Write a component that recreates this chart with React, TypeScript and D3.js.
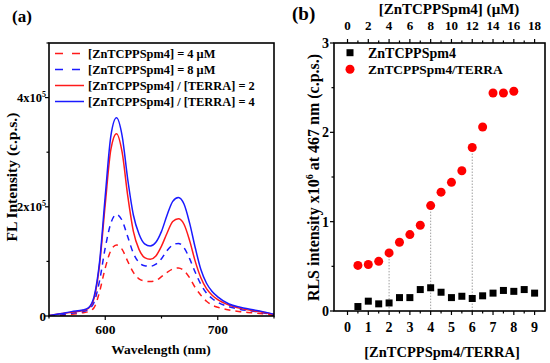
import React from 'react';
import * as d3 from 'd3';

// ---- panel (a) data: FL spectra (intensity in units of 1e5 c.p.s.)
const wavelengths = [550, 560, 570, 580, 585, 590, 595, 600, 605, 610, 615, 620, 625, 630, 635, 640, 645, 650, 655, 660, 665, 670, 675, 680, 685, 690, 695, 700, 710, 720, 730, 740, 750];
const flZn4 = [0, 0.01, 0.03, 0.06, 0.08, 0.15, 0.45, 0.88, 1.2, 1.3, 1.22, 1.0, 0.8, 0.68, 0.64, 0.63, 0.65, 0.72, 0.8, 0.86, 0.88, 0.83, 0.7, 0.52, 0.38, 0.27, 0.2, 0.16, 0.11, 0.08, 0.06, 0.04, 0.01];
const flZn8 = [0, 0.02, 0.05, 0.08, 0.12, 0.25, 0.65, 1.25, 1.7, 1.86, 1.75, 1.45, 1.15, 0.98, 0.92, 0.91, 0.95, 1.05, 1.2, 1.3, 1.33, 1.25, 1.05, 0.8, 0.58, 0.42, 0.32, 0.25, 0.17, 0.12, 0.09, 0.06, 0.02];
const flRatio2 = [0.01, 0.04, 0.07, 0.1, 0.14, 0.32, 0.95, 2.05, 3.05, 3.34, 3.0, 2.2, 1.55, 1.22, 1.07, 1.04, 1.1, 1.28, 1.52, 1.73, 1.78, 1.68, 1.38, 1.0, 0.7, 0.5, 0.38, 0.3, 0.2, 0.14, 0.1, 0.07, 0.03];
const flRatio4 = [0.01, 0.04, 0.08, 0.11, 0.15, 0.35, 1.0, 2.2, 3.3, 3.63, 3.3, 2.5, 1.85, 1.5, 1.32, 1.28, 1.35, 1.55, 1.85, 2.1, 2.17, 2.05, 1.7, 1.25, 0.85, 0.6, 0.45, 0.35, 0.22, 0.16, 0.12, 0.08, 0.03];

const spectra = [
  { label: '[ZnTCPPSpm4] = 4 \u03bcM', values: flZn4, color: '#ff1a1a', dash: '6,5' },
  { label: '[ZnTCPPSpm4] = 8 \u03bcM', values: flZn8, color: '#1a1aff', dash: '6,5' },
  { label: '[ZnTCPPSpm4] / [TERRA] = 2', values: flRatio2, color: '#ff1a1a', dash: null },
  { label: '[ZnTCPPSpm4] / [TERRA] = 4', values: flRatio4, color: '#1a1aff', dash: null },
];

// ---- panel (b) data: RLS intensity (x1e6 c.p.s.)
const ratioZn = [0.5, 1, 1.5, 2, 2.5, 3, 3.5, 4, 4.5, 5, 5.5, 6, 6.5, 7, 7.5, 8, 8.5, 9];
const rlsZn = [0.05, 0.11, 0.08, 0.09, 0.15, 0.15, 0.24, 0.26, 0.21, 0.15, 0.165, 0.14, 0.17, 0.2, 0.23, 0.22, 0.24, 0.2];
const ratioTerra = [0.5, 1, 1.5, 2, 2.5, 3, 3.5, 4, 4.5, 5, 5.5, 6, 6.5, 7, 7.5, 8];
const rlsTerra = [0.51, 0.52, 0.556, 0.65, 0.77, 0.855, 0.96, 1.18, 1.33, 1.44, 1.57, 1.83, 2.06, 2.44, 2.44, 2.46];
const dropLines = [2, 4, 6];

const bottomTicks = [0, 1, 2, 3, 4, 5, 6, 7, 8, 9];
const topTicks = [0, 2, 4, 6, 8, 10, 12, 14, 16, 18];
const rlsTicks = [0, 1, 2, 3];

const FONT = '"Liberation Serif", "Times New Roman", serif';
const MU = '\u03bc';

function PanelA() {
  const x0 = 49, x1 = 274, y0 = 43, y1 = 316;
  const x = d3.scaleLinear().domain([550, 750]).range([x0, x1]);
  const y = d3.scaleLinear().domain([0, 5]).range([y1, y0]);
  const line = d3.line<number>()
    .x((_, i) => x(wavelengths[i]))
    .y(d => y(d))
    .curve(d3.curveMonotoneX);

  return (
    <g fontFamily={FONT} fontWeight="bold">
      <text x={12} y={22} fontSize={17}>(a)</text>
      <defs>
        <clipPath id="clipA"><rect x={x0} y={y0} width={x1 - x0} height={y1 - y0} /></clipPath>
      </defs>
      <g clipPath="url(#clipA)">
        {spectra.map((s, i) => (
          <path key={i} d={line(s.values) || ''} fill="none" stroke={s.color}
            strokeWidth={1.5} strokeDasharray={s.dash || undefined} />
        ))}
      </g>
      {/* legend */}
      {spectra.map((s, i) => {
        const ly = 53.5 + i * 16;
        return (
          <g key={i}>
            <line x1={55} x2={84} y1={ly} y2={ly} stroke={s.color} strokeWidth={1.5}
              strokeDasharray={s.dash ? '8,9' : undefined} />
            <text x={88} y={ly + 4.5} fontSize={12.4}>{s.label}</text>
          </g>
        );
      })}
      <rect x={x0} y={y0} width={x1 - x0} height={y1 - y0} fill="none" stroke="#000" strokeWidth={1.6} />
      {/* x ticks */}
      {[550, 600, 650, 700, 750].map(t => (
        <line key={t} x1={x(t)} x2={x(t)} y1={y1} y2={y1 + (t % 100 === 0 ? 4 : 2.5)} stroke="#000" strokeWidth={1.2} />
      ))}
      {[600, 700].map(t => (
        <text key={t} x={x(t)} y={334} fontSize={13.5} textAnchor="middle">{t}</text>
      ))}
      {/* y ticks */}
      {[0, 1, 2, 3, 4, 5].map(t => (
        <line key={t} x1={x0} x2={x0 - (t % 2 === 0 ? 4 : 2.5)} y1={y(t)} y2={y(t)} stroke="#000" strokeWidth={1.2} />
      ))}
      <text x={46} y={y(0) + 4.5} fontSize={13} textAnchor="end">0</text>
      {[2, 4].map(t => (
        <text key={t} x={46} y={y(t) + 4.5} fontSize={12.5} textAnchor="end">
          {t}x10<tspan dy={-5} fontSize={8}>5</tspan>
        </text>
      ))}
      <text transform={`translate(17,${177}) rotate(-90)`} fontSize={15.5} textAnchor="middle">FL Intensity (c.p.s.)</text>
      <text x={161} y={354} fontSize={13.5} textAnchor="middle">Wavelength (nm)</text>
    </g>
  );
}

function PanelB() {
  const x0 = 334, x1 = 545, y0 = 43, y1 = 311;
  const x = d3.scaleLinear().domain([-0.65, 9.5]).range([x0, x1]);
  const xTop = d3.scaleLinear().domain([-1.3, 19]).range([x0, x1]);
  const y = d3.scaleLinear().domain([0, 3]).range([y1, y0]);
  const halfTicks = d3.range(0, 19).map(i => i * 0.5);
  const topAll = d3.range(0, 19);
  const sq = 7;

  return (
    <g fontFamily={FONT} fontWeight="bold">
      <text x={292} y={20} fontSize={19}>(b)</text>
      <text x={449} y={13.5} fontSize={15} textAnchor="middle">[ZnTCPPSpm4] ({MU}M)</text>
      {/* drop lines */}
      {dropLines.map(d => {
        const idx = ratioTerra.indexOf(d);
        return (
          <line key={d} x1={x(d)} x2={x(d)} y1={y(rlsTerra[idx])} y2={y1} stroke="#888"
            strokeWidth={0.8} strokeDasharray="1.5,1.5" />
        );
      })}
      {ratioZn.map((r, i) => (
        <rect key={i} x={x(r) - sq / 2} y={y(rlsZn[i]) - sq / 2} width={sq} height={sq} fill="#000" />
      ))}
      {ratioTerra.map((r, i) => (
        <circle key={i} cx={x(r)} cy={y(rlsTerra[i])} r={4.5} fill="#ff0000" />
      ))}
      {/* legend */}
      <rect x={350 - 3.5} y={52.7 - 3.5} width={7} height={7} fill="#000" />
      <text x={368} y={57.5} fontSize={14}>ZnTCPPSpm4</text>
      <circle cx={350} cy={69.3} r={4.5} fill="#ff0000" />
      <text x={368} y={74} fontSize={13.4}>ZnTCPPSpm4/TERRA</text>

      <rect x={x0} y={y0} width={x1 - x0} height={y1 - y0} fill="none" stroke="#000" strokeWidth={1.6} />
      {/* bottom ticks */}
      {halfTicks.map(t => (
        <line key={t} x1={x(t)} x2={x(t)} y1={y1} y2={y1 + (Number.isInteger(t) ? 4 : 2.5)} stroke="#000" strokeWidth={1.2} />
      ))}
      {bottomTicks.map(t => (
        <text key={t} x={x(t)} y={331.5} fontSize={14} textAnchor="middle">{t}</text>
      ))}
      {/* top ticks */}
      {topAll.map(t => (
        <line key={t} x1={xTop(t)} x2={xTop(t)} y1={y0} y2={y0 - (t % 2 === 0 ? 4 : 2.5)} stroke="#000" strokeWidth={1.2} />
      ))}
      {topTicks.map(t => (
        <text key={t} x={xTop(t)} y={30} fontSize={13} textAnchor="middle">{t}</text>
      ))}
      {/* y ticks */}
      {[0, 0.5, 1, 1.5, 2, 2.5, 3].map(t => (
        <line key={t} x1={x0} x2={x0 - (Number.isInteger(t) ? 4 : 2.5)} y1={y(t)} y2={y(t)} stroke="#000" strokeWidth={1.2} />
      ))}
      {rlsTicks.map(t => (
        <text key={t} x={329} y={y(t) + 5} fontSize={14} textAnchor="end">{t}</text>
      ))}
      <text transform={`translate(319,177.5) rotate(-90)`} fontSize={16} textAnchor="middle">
        RLS intensity  x10<tspan dy={-6} fontSize={10}>6</tspan><tspan dy={6}> at 467 nm (c.p.s.)</tspan>
      </text>
      <text x={442} y={357} fontSize={14.5} textAnchor="middle">[ZnTCPPSpm4/TERRA]</text>
    </g>
  );
}

export default function App() {
  return (
    <svg width={550} height={363} style={{ position: 'absolute', left: 0, top: 0, background: '#fff' }}>
      <rect width={550} height={363} fill="#fff" />
      <PanelA />
      <PanelB />
    </svg>
  );
}
